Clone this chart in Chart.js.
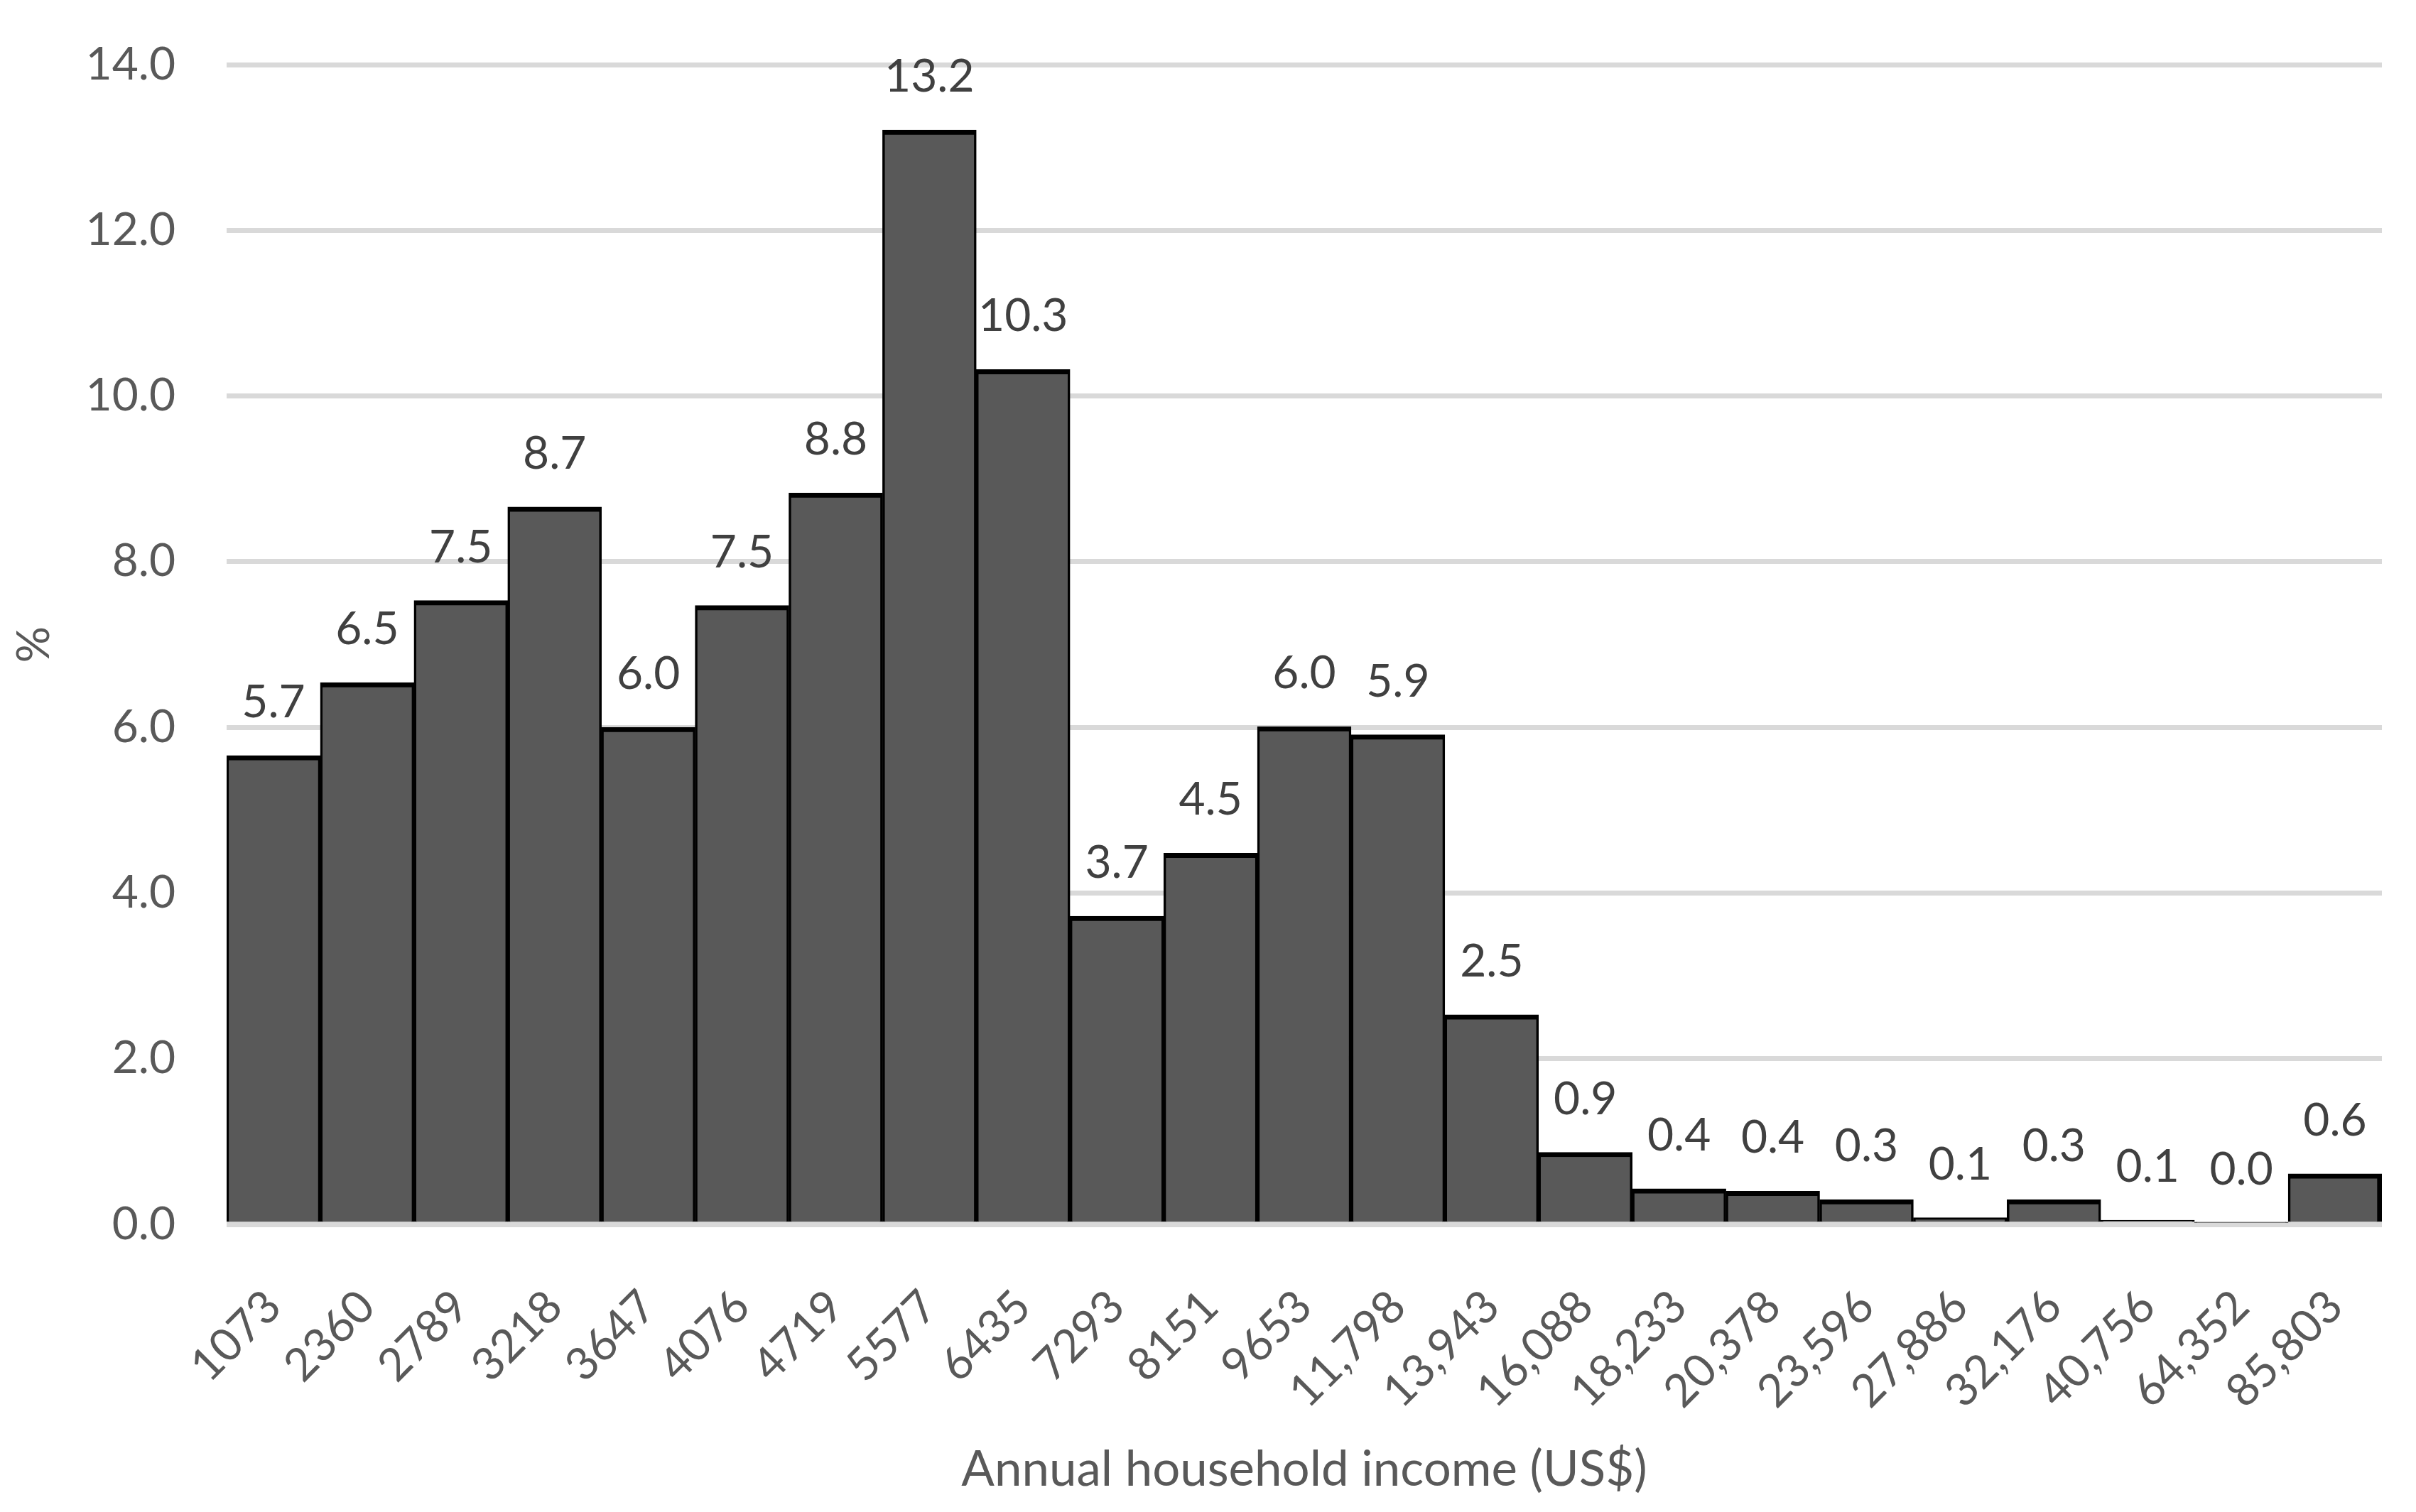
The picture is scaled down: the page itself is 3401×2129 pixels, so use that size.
<!DOCTYPE html>
<html>
<head>
<meta charset="utf-8">
<script src="https://cdn.jsdelivr.net/npm/chart.js@4.4.0/dist/chart.umd.min.js"></script>
<style>
  html, body { margin: 0; padding: 0; background: #fff; }
  #wrap { width: 3401px; height: 2129px; }
</style>
</head>
<body>
<div id="wrap"><canvas id="chart" width="3401" height="2129"></canvas></div>
<script>
// income brackets (US$) shown under each bar
const incomeLabels = [
  '1073', '2360', '2789', '3218', '3647', '4076', '4719', '5577',
  '6435', '7293', '8151', '9653', '11,798', '13,943', '16,088', '18,233',
  '20,378', '23,596', '27,886', '32,176', '40,756', '64,352', '85,803'
];

// share of households, %
const sharePercent = [
  5.66, 6.54, 7.53, 8.66, 6.00, 7.47, 8.83, 13.21,
  10.32, 3.72, 4.48, 6.01, 5.91, 2.53, 0.87, 0.43,
  0.40, 0.30, 0.08, 0.30, 0.05, 0.02, 0.61
];

// y axis range
const yMin = 0;
const yMax = 14;
const yStep = 2;

const FONT = 'Lato';
const FONT_SIZE = 64;
const GREY = '#595959';

// draw the value above each bar
const barValueLabels = {
  id: 'barValueLabels',
  afterDatasetsDraw(chart) {
    const ctx = chart.ctx;
    const meta = chart.getDatasetMeta(0);
    ctx.save();
    ctx.font = `${FONT_SIZE}px ${FONT}`;
    ctx.fillStyle = '#404040';
    ctx.textAlign = 'center';
    ctx.textBaseline = 'alphabetic';
    meta.data.forEach((bar, i) => {
      ctx.fillText(sharePercent[i].toFixed(1), bar.x, bar.y - 54);
    });
    ctx.restore();
  }
};

const lastBar = sharePercent.length - 1;

new Chart(document.getElementById('chart'), {
  type: 'bar',
  data: {
    labels: incomeLabels,
    datasets: [{
      data: sharePercent,
      backgroundColor: '#595959',
      borderColor: '#000000',
      // neighbouring bars share one outline, so split it in half
      borderWidth: (c) => ({
        top: 7,
        left: 3.5,
        right: c.dataIndex === lastBar ? 7 : 3.5,
        bottom: 0
      }),
      categoryPercentage: 1.0,
      barPercentage: 1.0
    }]
  },
  options: {
    responsive: false,
    devicePixelRatio: 1,
    animation: false,
    layout: {
      padding: { top: 91, right: 48, bottom: 0, left: 0 }
    },
    plugins: {
      legend: { display: false },
      tooltip: { enabled: false }
    },
    scales: {
      x: {
        grid: { display: false },
        border: { display: false },
        ticks: {
          color: GREY,
          font: { family: FONT, size: FONT_SIZE },
          minRotation: 45,
          maxRotation: 45,
          padding: 70
        },
        title: {
          display: true,
          text: 'Annual household income (US$)',
          color: GREY,
          font: { family: FONT, size: 69 },
          padding: { top: 0, bottom: 18 }
        },
        afterFit(scale) {
          scale.height = 405;
          scale.paddingLeft = 0;
          scale.paddingRight = 0;
        }
      },
      y: {
        min: yMin,
        max: yMax,
        grid: {
          color: '#d9d9d9',
          lineWidth: 7,
          drawTicks: false
        },
        border: { display: false },
        ticks: {
          stepSize: yStep,
          color: GREY,
          font: { family: FONT, size: FONT_SIZE },
          padding: 72,
          callback: (v) => Number(v).toFixed(1)
        },
        title: {
          display: true,
          text: '%',
          color: GREY,
          font: { family: FONT, size: FONT_SIZE },
          padding: { top: 10, bottom: 0 }
        },
        afterFit(scale) {
          scale.width = 319;
          scale.paddingTop = 0;
          scale.paddingBottom = 0;
        }
      }
    }
  },
  plugins: [barValueLabels]
});
</script>
</body>
</html>
